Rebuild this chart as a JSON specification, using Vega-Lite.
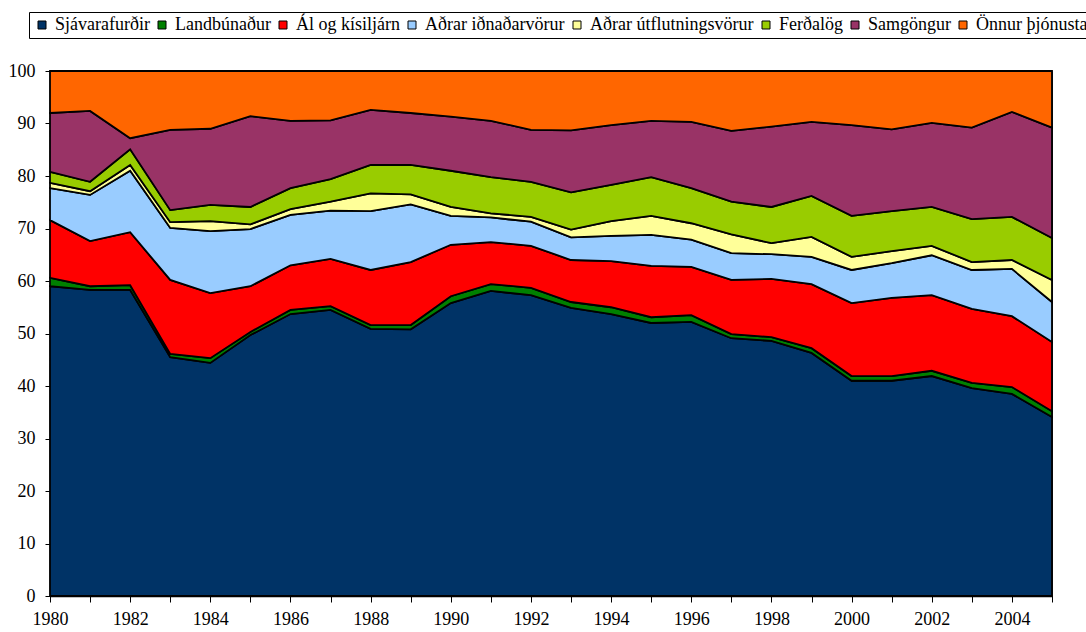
{
  "$schema": "https://vega.github.io/schema/vega-lite/v6.json",
  "width": 1002,
  "height": 525,
  "autosize": {"type": "none"},
  "padding": {"left": 50, "top": 71, "right": 34, "bottom": 36},
  "background": "white",
  "config": {
    "font": "Liberation Serif",
    "view": {"stroke": "#404040", "strokeWidth": 1},
    "legend": {"labelFont": "Liberation Serif", "labelFontSize": 18}
  },
  "data": {
    "values": [
      {"ár": 1980, "Sjávarafurðir": 59.0, "Landbúnaður": 1.6, "Ál og kísiljárn": 11.0, "Aðrar iðnaðarvörur": 6.1, "Aðrar útflutningsvörur": 1.0, "Ferðalög": 2.1, "Samgöngur": 11.2, "Önnur þjónusta": 8.0},
      {"ár": 1981, "Sjávarafurðir": 58.3, "Landbúnaður": 0.7, "Ál og kísiljárn": 8.6, "Aðrar iðnaðarvörur": 8.8, "Aðrar útflutningsvörur": 0.7, "Ferðalög": 1.8, "Samgöngur": 13.5, "Önnur þjónusta": 7.6},
      {"ár": 1982, "Sjávarafurðir": 58.3, "Landbúnaður": 0.9, "Ál og kísiljárn": 10.1, "Aðrar iðnaðarvörur": 11.7, "Aðrar útflutningsvörur": 1.1, "Ferðalög": 3.0, "Samgöngur": 2.1, "Önnur þjónusta": 12.8},
      {"ár": 1983, "Sjávarafurðir": 45.5, "Landbúnaður": 0.6, "Ál og kísiljárn": 14.1, "Aðrar iðnaðarvörur": 9.9, "Aðrar útflutningsvörur": 1.1, "Ferðalög": 2.3, "Samgöngur": 15.3, "Önnur þjónusta": 11.2},
      {"ár": 1984, "Sjávarafurðir": 44.4, "Landbúnaður": 0.9, "Ál og kísiljárn": 12.4, "Aðrar iðnaðarvörur": 11.8, "Aðrar útflutningsvörur": 1.9, "Ferðalög": 3.1, "Samgöngur": 14.5, "Önnur þjónusta": 11.0},
      {"ár": 1985, "Sjávarafurðir": 49.7, "Landbúnaður": 0.6, "Ál og kísiljárn": 8.7, "Aðrar iðnaðarvörur": 10.9, "Aðrar útflutningsvörur": 0.9, "Ferðalög": 3.3, "Samgöngur": 17.3, "Önnur þjónusta": 8.6},
      {"ár": 1986, "Sjávarafurðir": 53.7, "Landbúnaður": 0.8, "Ál og kísiljárn": 8.5, "Aðrar iðnaðarvörur": 9.6, "Aðrar útflutningsvörur": 1.1, "Ferðalög": 4.0, "Samgöngur": 12.8, "Önnur þjónusta": 9.5},
      {"ár": 1987, "Sjávarafurðir": 54.5, "Landbúnaður": 0.7, "Ál og kísiljárn": 9.0, "Aðrar iðnaðarvörur": 9.2, "Aðrar útflutningsvörur": 1.7, "Ferðalög": 4.3, "Samgöngur": 11.2, "Önnur þjónusta": 9.4},
      {"ár": 1988, "Sjávarafurðir": 50.9, "Landbúnaður": 0.7, "Ál og kísiljárn": 10.5, "Aðrar iðnaðarvörur": 11.2, "Aðrar útflutningsvörur": 3.4, "Ferðalög": 5.4, "Samgöngur": 10.5, "Önnur þjónusta": 7.4},
      {"ár": 1989, "Sjávarafurðir": 50.8, "Landbúnaður": 0.8, "Ál og kísiljárn": 12.0, "Aðrar iðnaðarvörur": 11.0, "Aðrar útflutningsvörur": 1.9, "Ferðalög": 5.6, "Samgöngur": 9.9, "Önnur þjónusta": 8.0},
      {"ár": 1990, "Sjávarafurðir": 55.8, "Landbúnaður": 1.3, "Ál og kísiljárn": 9.8, "Aðrar iðnaðarvörur": 5.5, "Aðrar útflutningsvörur": 1.7, "Ferðalög": 6.9, "Samgöngur": 10.3, "Önnur þjónusta": 8.7},
      {"ár": 1991, "Sjávarafurðir": 58.1, "Landbúnaður": 1.3, "Ál og kísiljárn": 8.0, "Aðrar iðnaðarvörur": 4.7, "Aðrar útflutningsvörur": 0.8, "Ferðalög": 6.9, "Samgöngur": 10.7, "Önnur þjónusta": 9.5},
      {"ár": 1992, "Sjávarafurðir": 57.3, "Landbúnaður": 1.4, "Ál og kísiljárn": 8.0, "Aðrar iðnaðarvörur": 4.6, "Aðrar útflutningsvörur": 0.9, "Ferðalög": 6.7, "Samgöngur": 9.9, "Önnur þjónusta": 11.2},
      {"ár": 1993, "Sjávarafurðir": 54.9, "Landbúnaður": 1.1, "Ál og kísiljárn": 8.0, "Aðrar iðnaðarvörur": 4.3, "Aðrar útflutningsvörur": 1.5, "Ferðalög": 7.1, "Samgöngur": 11.8, "Önnur þjónusta": 11.3},
      {"ár": 1994, "Sjávarafurðir": 53.7, "Landbúnaður": 1.3, "Ál og kísiljárn": 8.8, "Aðrar iðnaðarvörur": 4.8, "Aðrar útflutningsvörur": 2.8, "Ferðalög": 6.9, "Samgöngur": 11.4, "Önnur þjónusta": 10.3},
      {"ár": 1995, "Sjávarafurðir": 52.0, "Landbúnaður": 1.1, "Ál og kísiljárn": 9.8, "Aðrar iðnaðarvörur": 5.9, "Aðrar útflutningsvörur": 3.6, "Ferðalög": 7.4, "Samgöngur": 10.7, "Önnur þjónusta": 9.5},
      {"ár": 1996, "Sjávarafurðir": 52.2, "Landbúnaður": 1.3, "Ál og kísiljárn": 9.2, "Aðrar iðnaðarvörur": 5.2, "Aðrar útflutningsvörur": 3.1, "Ferðalög": 6.7, "Samgöngur": 12.6, "Önnur þjónusta": 9.7},
      {"ár": 1997, "Sjávarafurðir": 49.1, "Landbúnaður": 0.8, "Ál og kísiljárn": 10.3, "Aðrar iðnaðarvörur": 5.1, "Aðrar útflutningsvörur": 3.6, "Ferðalög": 6.2, "Samgöngur": 13.5, "Önnur þjónusta": 11.4},
      {"ár": 1998, "Sjávarafurðir": 48.6, "Landbúnaður": 0.7, "Ál og kísiljárn": 11.1, "Aðrar iðnaðarvörur": 4.7, "Aðrar útflutningsvörur": 2.1, "Ferðalög": 6.9, "Samgöngur": 15.3, "Önnur þjónusta": 10.6},
      {"ár": 1999, "Sjávarafurðir": 46.3, "Landbúnaður": 0.9, "Ál og kísiljárn": 12.2, "Aðrar iðnaðarvörur": 5.2, "Aðrar útflutningsvörur": 3.8, "Ferðalög": 7.8, "Samgöngur": 14.1, "Önnur þjónusta": 9.7},
      {"ár": 2000, "Sjávarafurðir": 41.0, "Landbúnaður": 0.9, "Ál og kísiljárn": 13.9, "Aðrar iðnaðarvörur": 6.3, "Aðrar útflutningsvörur": 2.5, "Ferðalög": 7.8, "Samgöngur": 17.3, "Önnur þjónusta": 10.3},
      {"ár": 2001, "Sjávarafurðir": 41.0, "Landbúnaður": 0.9, "Ál og kísiljárn": 14.9, "Aðrar iðnaðarvörur": 6.6, "Aðrar útflutningsvörur": 2.3, "Ferðalög": 7.6, "Samgöngur": 15.6, "Önnur þjónusta": 11.1},
      {"ár": 2002, "Sjávarafurðir": 41.9, "Landbúnaður": 1.0, "Ál og kísiljárn": 14.4, "Aðrar iðnaðarvörur": 7.6, "Aðrar útflutningsvörur": 1.8, "Ferðalög": 7.4, "Samgöngur": 16.0, "Önnur þjónusta": 9.9},
      {"ár": 2003, "Sjávarafurðir": 39.6, "Landbúnaður": 1.0, "Ál og kísiljárn": 14.1, "Aðrar iðnaðarvörur": 7.4, "Aðrar útflutningsvörur": 1.5, "Ferðalög": 8.2, "Samgöngur": 17.4, "Önnur þjónusta": 10.8},
      {"ár": 2004, "Sjávarafurðir": 38.5, "Landbúnaður": 1.3, "Ál og kísiljárn": 13.5, "Aðrar iðnaðarvörur": 9.0, "Aðrar útflutningsvörur": 1.7, "Ferðalög": 8.2, "Samgöngur": 20.0, "Önnur þjónusta": 7.8},
      {"ár": 2005, "Sjávarafurðir": 34.1, "Landbúnaður": 1.1, "Ál og kísiljárn": 13.2, "Aðrar iðnaðarvörur": 7.6, "Aðrar útflutningsvörur": 4.2, "Ferðalög": 8.0, "Samgöngur": 21.0, "Önnur þjónusta": 10.8}
    ]
  },
  "transform": [
    {"fold": ["Sjávarafurðir", "Landbúnaður", "Ál og kísiljárn", "Aðrar iðnaðarvörur", "Aðrar útflutningsvörur", "Ferðalög", "Samgöngur", "Önnur þjónusta"], "as": ["flokkur", "hlutfall"]},
    {"window": [{"op": "row_number", "as": "röð"}], "groupby": ["ár"]}
  ],
  "mark": {"type": "area", "stroke": "black", "strokeWidth": 1.8, "strokeJoin": "miter", "opacity": 1},
  "encoding": {
    "x": {
      "field": "ár", "type": "quantitative",
      "scale": {"domain": [1980, 2005], "nice": false, "zero": false},
      "axis": {
        "title": null, "grid": false,
        "values": [1980,1981,1982,1983,1984,1985,1986,1987,1988,1989,1990,1991,1992,1993,1994,1995,1996,1997,1998,1999,2000,2001,2002,2003,2004,2005],
        "format": "d",
        "labelExpr": "datum.value % 2 == 0 && datum.value < 2005 ? datum.label : ''",
        "labelFont": "Liberation Serif", "labelFontSize": 18, "labelColor": "black",
        "labelFlush": false, "labelOverlap": false, "labelPadding": 8,
        "domainColor": "black", "domainWidth": 1.5,
        "tickColor": "black", "tickSize": 6, "tickWidth": 1
      }
    },
    "y": {
      "field": "hlutfall", "type": "quantitative", "stack": "zero",
      "scale": {"domain": [0, 100], "nice": false},
      "axis": {
        "title": null, "grid": false,
        "values": [0,10,20,30,40,50,60,70,80,90,100],
        "labelFont": "Liberation Serif", "labelFontSize": 18, "labelColor": "black",
        "labelPadding": 10,
        "domainColor": "black", "domainWidth": 1.5,
        "tickColor": "black", "tickSize": 5, "tickWidth": 1
      }
    },
    "order": {"field": "röð", "type": "quantitative", "sort": "ascending"},
    "color": {
      "field": "flokkur", "type": "nominal",
      "sort": ["Sjávarafurðir", "Landbúnaður", "Ál og kísiljárn", "Aðrar iðnaðarvörur", "Aðrar útflutningsvörur", "Ferðalög", "Samgöngur", "Önnur þjónusta"],
      "scale": {
        "domain": ["Sjávarafurðir", "Landbúnaður", "Ál og kísiljárn", "Aðrar iðnaðarvörur", "Aðrar útflutningsvörur", "Ferðalög", "Samgöngur", "Önnur þjónusta"],
        "range": ["#003366", "#008000", "#FF0000", "#99CCFF", "#FFFF99", "#99CC00", "#993366", "#FF6600"]
      },
      "legend": {
        "title": null,
        "orient": "none",
        "legendX": -21,
        "legendY": -59,
        "direction": "horizontal",
        "columns": 8,
        "columnPadding": 3,
        "padding": 4,
        "strokeColor": "black",
        "symbolType": "square",
        "symbolSize": 64,
        "symbolStrokeColor": "black",
        "symbolStrokeWidth": 1,
        "symbolOpacity": 1,
        "labelFont": "Liberation Serif",
        "labelFontSize": 18,
        "labelColor": "black",
        "labelOffset": 4,
        "labelLimit": 400
      }
    }
  }
}
